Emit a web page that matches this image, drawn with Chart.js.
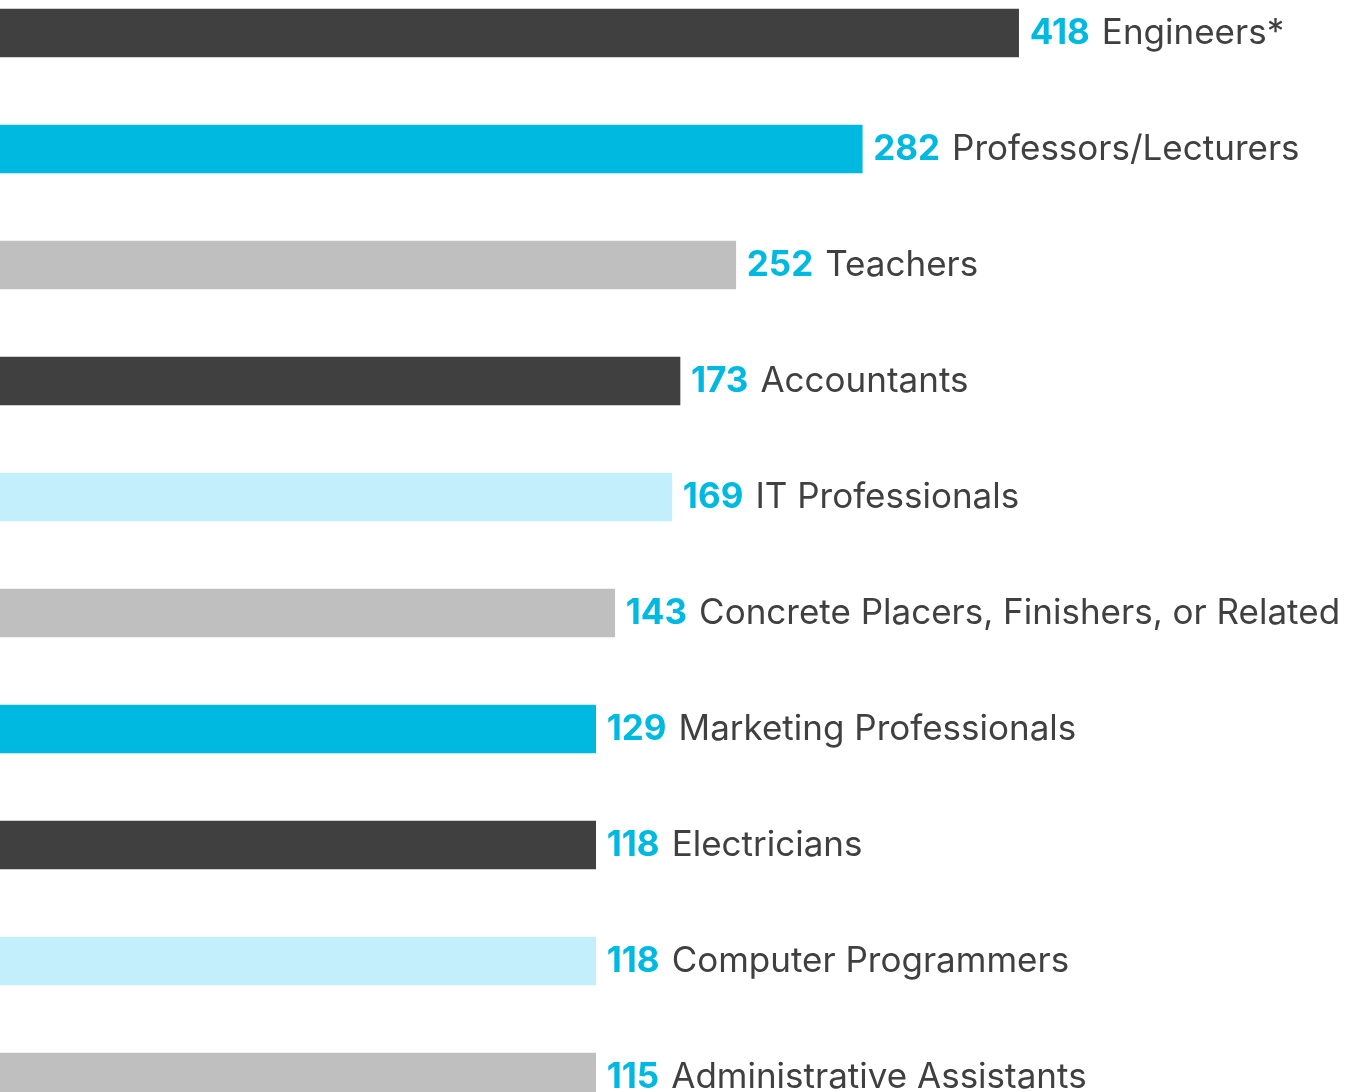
<!DOCTYPE html>
<html>
<head>
<meta charset="utf-8">
<script src="https://cdn.jsdelivr.net/npm/chart.js@4.4.0/dist/chart.umd.min.js"></script>
<style>
  html, body { margin: 0; padding: 0; background: #fff; overflow: hidden; }
  body { width: 1360px; height: 1092px; position: relative; }
  #wrap { position: absolute; left: 0; top: -25px; width: 1360px; height: 1160px; }
</style>
</head>
<body>
<div id="wrap"><canvas id="jobsChart"></canvas></div>
<script>
const occupations = ['Engineers*', 'Professors/Lecturers', 'Teachers', 'Accountants', 'IT Professionals',
    'Concrete Placers, Finishers, or Related', 'Marketing Professionals', 'Electricians',
    'Computer Programmers', 'Administrative Assistants'];
const counts = [418, 282, 252, 173, 169, 143, 129, 118, 118, 115];
// bar length as % of the page width (bars are not drawn to scale)
const barLengths = [74.9, 63.4, 54.1, 50.0, 49.4, 45.2, 43.8, 43.8, 43.8, 43.8];
const barColors = ['#404040', '#00b9e1', '#bfbfbf', '#404040', '#c3eefb',
    '#bfbfbf', '#00b9e1', '#404040', '#c3eefb', '#bfbfbf'];

const blue = '#00b9e1';
const gray = '#404040';

// draws "NNN Name" right of each bar
const barLabels = {
    id: 'barLabels',
    afterDatasetsDraw(chart) {
        const ctx = chart.ctx;
        const meta = chart.getDatasetMeta(0);
        ctx.save();
        ctx.textBaseline = 'alphabetic';
        meta.data.forEach((bar, i) => {
            let x = bar.x + 11;
            const y = bar.y + 11;
            ctx.font = 'bold 35px Inter';
            ctx.fillStyle = blue;
            const num = String(counts[i]);
            ctx.fillText(num, x, y);
            x += ctx.measureText(num).width + 12;
            ctx.font = '35px Inter';
            ctx.fillStyle = gray;
            ctx.fillText(occupations[i], x, y);
        });
        ctx.restore();
    }
};

const ctx = document.getElementById('jobsChart').getContext('2d');
const jobsChart = new Chart(ctx, {
    type: 'bar',
    data: {
        labels: occupations,
        datasets: [{
            data: barLengths,
            backgroundColor: barColors,
            barThickness: 48,
            borderWidth: 0
        }]
    },
    options: {
        indexAxis: 'y',
        responsive: true,
        maintainAspectRatio: false,
        animation: false,
        layout: { padding: 0 },
        plugins: {
            legend: { display: false },
            tooltip: { enabled: false }
        },
        scales: {
            x: { display: false, min: 0, max: 100 },
            y: { display: false, grid: { display: false } }
        }
    },
    plugins: [barLabels]
});
</script>
</body>
</html>
